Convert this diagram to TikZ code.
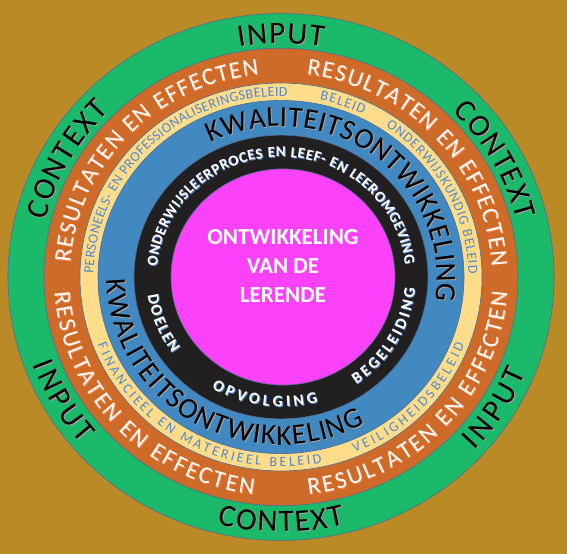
\documentclass[tikz,border=0pt]{standalone}
\usepackage{fontspec}
\setmainfont{Carlito}
\usetikzlibrary{decorations.text}

\definecolor{bgbrown}{RGB}{186,138,38}
\definecolor{ringgreen}{RGB}{27,185,106}
\definecolor{ringorange}{RGB}{207,107,41}
\definecolor{ringyellow}{RGB}{253,221,138}
\definecolor{ringblue}{RGB}{66,137,194}
\definecolor{ringblack}{RGB}{33,31,32}
\definecolor{ringpink}{RGB}{251,65,249}
\definecolor{ringedge}{RGB}{78,108,150}
\definecolor{beleidblue}{RGB}{86,135,208}
\definecolor{shgray}{RGB}{165,165,165}
\definecolor{shorange}{RGB}{247,135,75}
\definecolor{shblue}{RGB}{95,145,215}

\newcommand{\fOuter}{\fontsize{31}{36}\selectfont}
\newcommand{\fResult}{\fontsize{24}{28}\selectfont\color{white}}
\newcommand{\fBeleid}{\fontsize{14}{16}\selectfont\color{beleidblue}}
\newcommand{\fKwal}{\fontsize{29}{34}\selectfont}
\newcommand{\fProces}{\bfseries\fontsize{15}{18}\selectfont\color{white}}
\newcommand{\fStep}{\bfseries\fontsize{16}{19}\selectfont\color{white}}

% text along an arc: format, radius, from, to, text
\newcommand{\arctext}[5]{%
  \path[decorate, decoration={text along path, text align={fit to path}, text={|#1|#5}}]
    (#3:#2) arc[start angle=#3, end angle=#4, radius=#2];}
% same, with a drop shadow in colour #1
\newcommand{\shadowtext}[6]{%
  \begin{scope}[shift={(0.9pt,-0.9pt)}]\arctext{#2\color{#1}}{#3}{#4}{#5}{#6}\end{scope}
  \arctext{#2}{#3}{#4}{#5}{#6}}

\tikzset{
  band/.style={draw=ringedge, line width=0.6pt},
  core/.style={align=center, text=white, font=\bfseries\fontsize{23}{29}\selectfont}
}

\begin{document}
\begin{tikzpicture}[x=1pt, y=0.965pt]
  \useasboundingbox[fill=bgbrown] (-281pt,-277pt) rectangle (286pt,277pt);
  % rings, outside in
  \filldraw[band, fill=ringgreen]  (0,0) circle[radius=273];
  \filldraw[band, fill=ringorange] (0,0) circle[radius=237];
  \filldraw[band, fill=ringyellow] (0,0) circle[radius=201];
  \filldraw[band, fill=ringblue]   (0,0) circle[radius=183];
  \filldraw[band, fill=ringblack]  (0,0) circle[radius=147];
  \filldraw[band, fill=ringpink]   (2,0) circle[radius=112];
  \node[core] (lerende) at (2,11) {ONTWIKKELING\\VAN DE\\LERENDE};

  % input and context
  \shadowtext{shgray}{\fOuter}{242}{100}{80}{INPUT}
  \shadowtext{shgray}{\fOuter}{243}{166}{135}{CONTEXT}
  \shadowtext{shgray}{\fOuter}{243}{45}{14}{CONTEXT}
  \shadowtext{shgray}{\fOuter}{264}{200}{221}{INPUT}
  \shadowtext{shgray}{\fOuter}{264}{256}{284}{CONTEXT}
  \shadowtext{shgray}{\fOuter}{264}{317}{338}{INPUT}

  % resultaten en effecten
  \shadowtext{shorange}{\fResult}{211}{176}{96}{RESULTATEN EN EFFECTEN}
  \shadowtext{shorange}{\fResult}{211}{83}{3}{RESULTATEN EN EFFECTEN}
  \shadowtext{shorange}{\fResult}{227}{184}{263}{RESULTATEN EN EFFECTEN}
  \shadowtext{shorange}{\fResult}{227}{277}{356}{RESULTATEN EN EFFECTEN}

  % beleid
  \arctext{\fBeleid}{187.5}{179}{88}{PERSONEELS- EN PROFESSIONALISERINGSBELEID}
  \arctext{\fBeleid}{187.5}{78}{64}{BELEID}
  \arctext{\fBeleid}{187.5}{56}{1}{ONDERWIJSKUNDIG BELEID}
  \arctext{\fBeleid}{196.5}{201}{282}{FINANCIEEL EN MATERIEEL BELEID}
  \arctext{\fBeleid}{196.5}{292}{339}{VEILIGHEIDSBELEID}

  % kwaliteitsontwikkeling
  \shadowtext{shgray}{\fKwal}{156}{117}{-9}{KWALITEITSONTWIKKELING}
  \shadowtext{shgray}{\fKwal}{174}{181}{299}{KWALITEITSONTWIKKELING}

  % onderwijsleerproces
  \shadowtext{shblue}{\fProces}{124.5}{175}{6}{ONDERWIJSLEERPROCES EN LEEF- EN LEEROMGEVING}
  \shadowtext{shblue}{\fStep}{134.5}{188}{216}{DOELEN}
  \shadowtext{shblue}{\fStep}{134.5}{239}{286}{OPVOLGING}
  \shadowtext{shblue}{\fStep}{134.5}{304}{355}{BEGELEIDING}
\end{tikzpicture}
\end{document}
